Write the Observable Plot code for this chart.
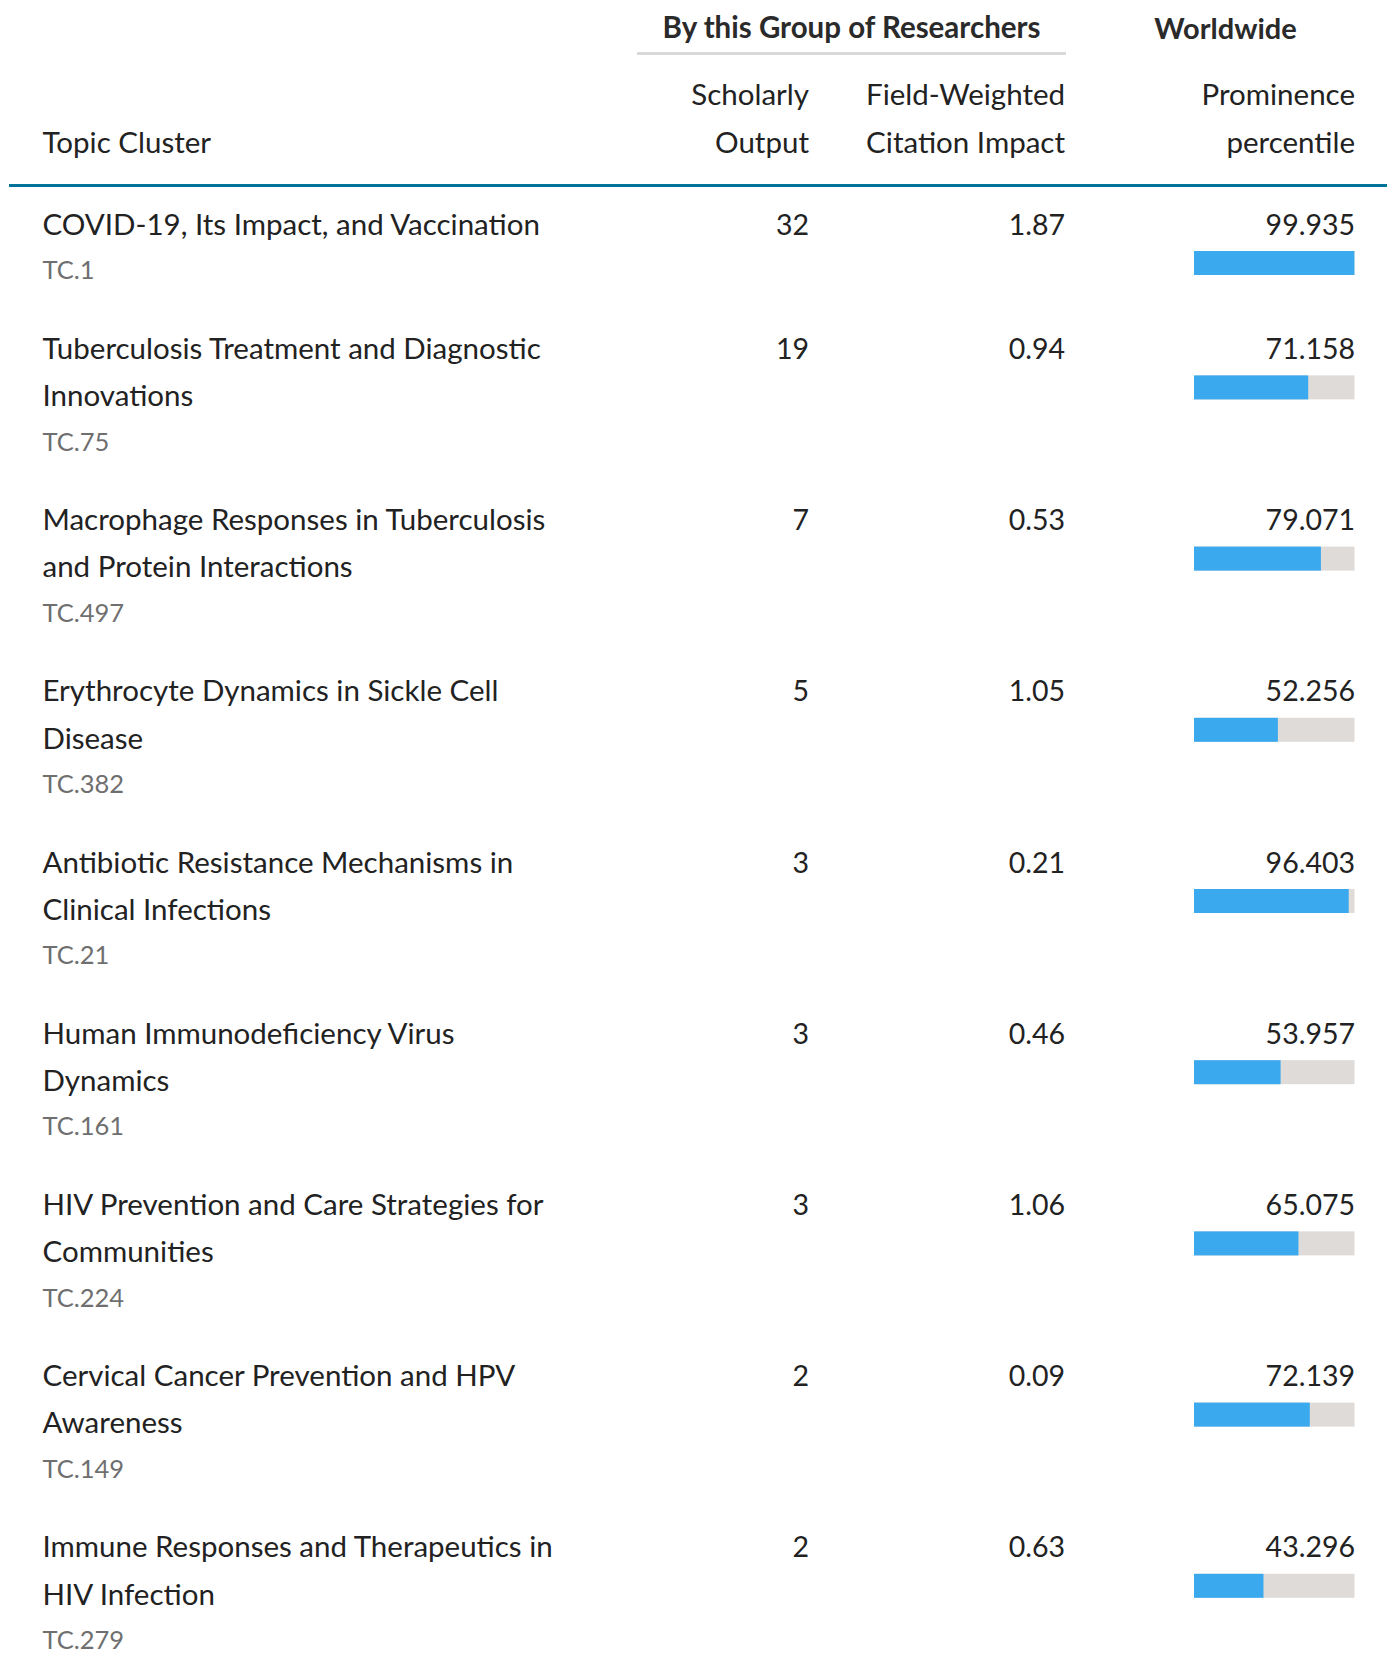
<!DOCTYPE html>
<html><head><meta charset="utf-8">
<script src="https://cdn.jsdelivr.net/npm/d3@7"></script>
<script src="https://cdn.jsdelivr.net/npm/@observablehq/plot@0.6"></script>
<style>
html,body{margin:0;padding:0;background:#fff;}
#wrap{position:relative;width:1388px;height:1653px;overflow:hidden;}
#wrap svg{display:block;position:absolute;left:0;top:0;}
.rule{position:absolute;}
</style>
</head><body>
<div id="wrap"></div>
<script>
// ---------- data ----------
const topics = [
  "COVID-19, Its Impact, and Vaccination",
  "Tuberculosis Treatment and Diagnostic Innovations",
  "Macrophage Responses in Tuberculosis and Protein Interactions",
  "Erythrocyte Dynamics in Sickle Cell Disease",
  "Antibiotic Resistance Mechanisms in Clinical Infections",
  "Human Immunodeficiency Virus Dynamics",
  "HIV Prevention and Care Strategies for Communities",
  "Cervical Cancer Prevention and HPV Awareness",
  "Immune Responses and Therapeutics in HIV Infection"
];
const clusterIds = ["TC.1","TC.75","TC.497","TC.382","TC.21","TC.161","TC.224","TC.149","TC.279"];
const scholarlyOutput = [32, 19, 7, 5, 3, 3, 3, 2, 2];
const fwci = [1.87, 0.94, 0.53, 1.05, 0.21, 0.46, 1.06, 0.09, 0.63];
const prominence = [99.935, 71.158, 79.071, 52.256, 96.403, 53.957, 65.075, 72.139, 43.296];

const groupHeaders = ["By this Group of Researchers", "Worldwide"];
const topicHeader = ["Topic Cluster"];
const outputHeader = ["Scholarly", "Output"];
const fwciHeader = ["Field-Weighted", "Citation Impact"];
const prominenceHeader = ["Prominence", "percentile"];

// ---------- layout ----------
const W = 1388, H = 1653;
const FONT = "Lato, 'Open Sans', sans-serif";
const FS = 29.5, NUM_FS = 28.5, SUB_FS = 25.5, HEAD_FS = 29.5;
const LINE_H = 47.3, ROW_LINE_EXTRA = 46.8;
const TOPIC_X = 42, OUTPUT_X = 808.5, FWCI_X = 1064.5;
const BAR_LEFT = 1194, BAR_RIGHT = 1354.5;
const FIRST_BASE = 234, ROW_STEP = 124.4, SUB_GAP = 44.3;
const BAR_TOP = 17, BAR_BOTTOM = 41;
const WRAP_W = 530;
const TEXT = "#222222", SUB = "#6f6f6f", HEAD = "#2a2a2a";

const ctx = document.createElement("canvas").getContext("2d");
ctx.font = `${FS}px Lato`;
function wrap(s) {
  const words = s.split(" "); const lines = []; let cur = "";
  for (const w of words) {
    const t = cur ? cur + " " + w : w;
    if (cur && ctx.measureText(t).width > WRAP_W) { lines.push(cur); cur = w; } else cur = t;
  }
  lines.push(cur); return lines;
}

const rows = [], titleLines = [];
let base = FIRST_BASE;
topics.forEach((t, i) => {
  const lines = wrap(t);
  lines.forEach((l, j) => titleLines.push({text: l, baseline: base + j * LINE_H}));
  rows.push({id: clusterIds[i], output: scholarlyOutput[i], fwci: fwci[i], pct: prominence[i],
             base, subBase: base + (lines.length - 1) * LINE_H + SUB_GAP});
  base += ROW_STEP + (lines.length - 1) * ROW_LINE_EXTRA;
});

const headLines = (arr, b0) => arr.map((t, j) => ({text: t, baseline: b0 + j * 48}));

const common = {frameAnchor: "left", lineAnchor: "bottom", y: "baseline", text: "text"};

const chart = Plot.plot({
  width: W, height: H, margin: 0,
  x: {domain: [0, 100], range: [BAR_LEFT, BAR_RIGHT], axis: null},
  y: {domain: [0, H], range: [0, H], axis: null},
  style: {fontFamily: FONT, background: "transparent", overflow: "visible"},
  marks: [
    // group headers
    Plot.text([{text: groupHeaders[0], baseline: 37.5}], {...common, dx: 851, textAnchor: "middle", fontSize: HEAD_FS, fontWeight: 700, fill: HEAD}),
    Plot.text([{text: groupHeaders[1], baseline: 38}], {...common, dx: 1225, textAnchor: "middle", fontSize: 29, fontWeight: 700, fill: HEAD}),
    // column headers
    Plot.text(headLines(topicHeader, 152.5), {...common, dx: TOPIC_X, textAnchor: "start", fontSize: FS, fill: TEXT}),
    Plot.text(headLines(outputHeader, 104.5), {...common, dx: OUTPUT_X, textAnchor: "end", fontSize: FS, fill: TEXT}),
    Plot.text(headLines(fwciHeader, 104.5), {...common, dx: FWCI_X, textAnchor: "end", fontSize: FS, fill: TEXT}),
    Plot.text(headLines(prominenceHeader, 104.5), {lineAnchor: "bottom", y: "baseline", text: "text", x: () => 100, textAnchor: "end", fontSize: FS, fill: TEXT}),
    // rows
    Plot.text(titleLines, {...common, dx: TOPIC_X, textAnchor: "start", fontSize: FS, fill: TEXT}),
    Plot.text(rows, {frameAnchor: "left", lineAnchor: "bottom", y: "subBase", text: "id", dx: TOPIC_X, textAnchor: "start", fontSize: SUB_FS, fill: SUB}),
    Plot.text(rows, {frameAnchor: "left", lineAnchor: "bottom", y: "base", text: d => String(d.output), dx: OUTPUT_X, textAnchor: "end", fontSize: NUM_FS, fill: TEXT}),
    Plot.text(rows, {frameAnchor: "left", lineAnchor: "bottom", y: "base", text: d => d3.format(".2f")(d.fwci), dx: FWCI_X, textAnchor: "end", fontSize: NUM_FS, fill: TEXT}),
    Plot.text(rows, {lineAnchor: "bottom", x: () => 100, y: "base", text: d => d3.format(".3f")(d.pct), textAnchor: "end", fontSize: NUM_FS, fill: TEXT}),
    Plot.rect(rows, {x1: () => 0, x2: () => 100, y1: d => d.base + BAR_TOP, y2: d => d.base + BAR_BOTTOM, fill: "#dedbd8"}),
    Plot.rect(rows, {x1: () => 0, x2: "pct", y1: d => d.base + BAR_TOP, y2: d => d.base + BAR_BOTTOM, fill: "#3aa9ee"})
  ]
});

const wrapEl = document.getElementById("wrap");
wrapEl.appendChild(chart);
// header rules
const r1 = document.createElement("div"); r1.className = "rule";
Object.assign(r1.style, {left: "637px", top: "52px", width: "429px", height: "3px", background: "#d9d9d9"});
const r2 = document.createElement("div"); r2.className = "rule";
Object.assign(r2.style, {left: "9px", top: "184px", width: "1378px", height: "3px", background: "#00739a"});
wrapEl.appendChild(r1); wrapEl.appendChild(r2);
</script>
</body></html>
